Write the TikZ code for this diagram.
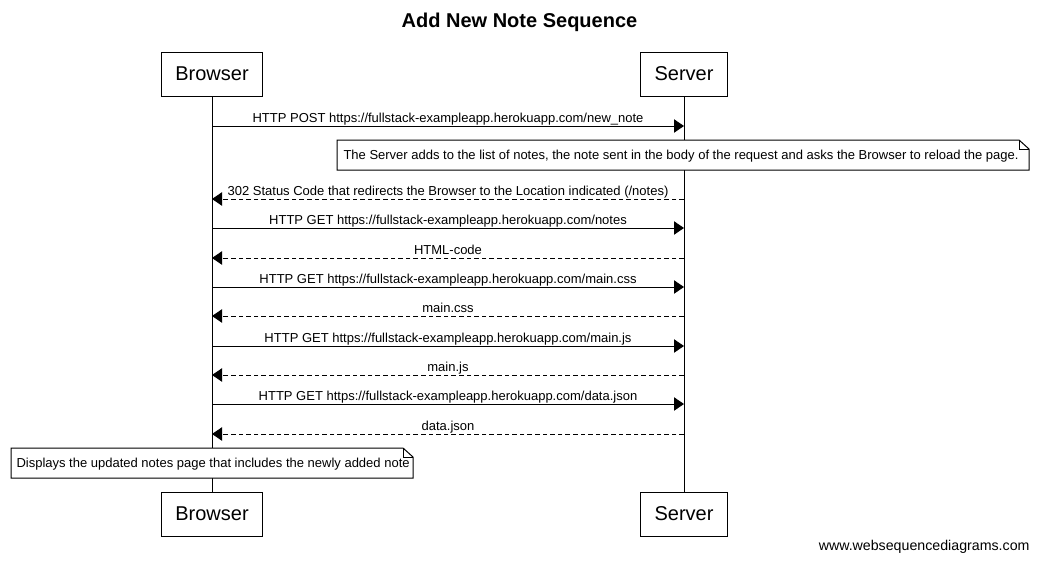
\documentclass[tikz,border=0pt]{standalone}
\usepackage{fontspec}
\setmainfont{Liberation Sans}
\usetikzlibrary{arrows.meta, calc}

\newcommand{\msgsize}{\fontsize{9.75}{11}\selectfont}
\newcommand{\notebox}[4]{%
	\filldraw[fill=white] (#1,#2) -- (#3-10,#2) -- (#3,#2+9) -- (#3,#4) -- (#1,#4) -- cycle;
	\draw (#3-10,#2) -- (#3-10,#2+9) -- (#3,#2+9);
}

\begin{document}
\begin{tikzpicture}[x=0.75pt, y=-0.75pt, line width=0.75pt,
		actor/.style={draw, fill=white, minimum height=33pt, inner xsep=10.5pt, font=\fontsize{15}{18}\selectfont},
		msg/.style={-{Triangle[length=7.5pt, width=10pt]}},
		reply/.style={msg, dash pattern=on 3.4pt off 2.3pt},
		msgtext/.style={anchor=base, inner sep=0pt, yshift=3pt, font=\msgsize}]
	\useasboundingbox (0,0) rectangle (1039,561);

	\node[font=\bfseries\fontsize{15}{18}\selectfont] (title) at (519.5,22.5) {Add New Note Sequence};

	\node[actor] (browserTop) at (212,74) {Browser};
	\node[actor] (serverTop) at (684,74) {Server};
	\node[actor] (browserBot) at (212,514) {Browser};
	\node[actor] (serverBot) at (684,514) {Server};

	\draw (browserTop) -- (browserBot);
	\draw (serverTop) -- (serverBot);

	\foreach \y/\txt [count=\i] in {
			126/{HTTP POST https://fullstack-exampleapp.herokuapp.com/new\_note},
			228/{HTTP GET https://fullstack-exampleapp.herokuapp.com/notes},
			287/{HTTP GET https://fullstack-exampleapp.herokuapp.com/main.css},
			346/{HTTP GET https://fullstack-exampleapp.herokuapp.com/main.js},
			404/{HTTP GET https://fullstack-exampleapp.herokuapp.com/data.json}} {
		\coordinate (req\i-from) at (212,\y);
		\coordinate (req\i-to) at (684,\y);
		\draw[msg] (req\i-from) -- (req\i-to) node[msgtext, midway] {\txt};
	}

	\foreach \y/\txt [count=\i] in {
			199/{302 Status Code that redirects the Browser to the Location indicated (/notes)},
			258/{HTML-code},
			316/{main.css},
			375/{main.js},
			434/{data.json}} {
		\coordinate (res\i-from) at (684,\y);
		\coordinate (res\i-to) at (212,\y);
		\draw[reply] (res\i-from) -- (res\i-to) node[msgtext, midway] {\txt};
	}

	\notebox{337}{140}{1029}{170}
	\node[anchor=west, inner sep=0pt, font=\msgsize] (serverNote) at (343,156.5) {The Server adds to the list of notes, the note sent in the body of the request and asks the Browser to reload the page.};

	\notebox{11}{448}{413}{478}
	\node[anchor=west, inner sep=0pt, font=\msgsize] (browserNote) at (16,464.5) {Displays the updated notes page that includes the newly added note};

	\node[anchor=east, inner sep=0pt, font=\fontsize{10.65}{12}\selectfont] (credit) at (1030,546.5) {www.websequencediagrams.com};
\end{tikzpicture}
\end{document}
